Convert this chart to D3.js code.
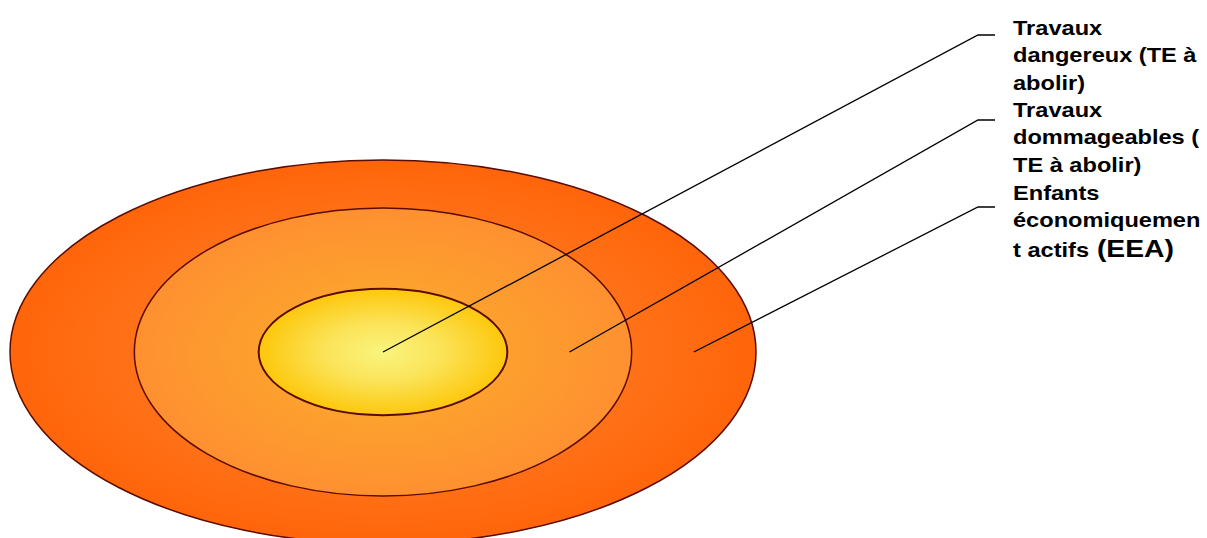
<!DOCTYPE html>
<html>
<head>
<meta charset="utf-8">
<script src="https://cdn.jsdelivr.net/npm/d3@7"></script>
<style>
  body { margin: 0; background: #fff; }
  text { font-family: Arial, "Liberation Sans", sans-serif; font-weight: bold; }
</style>
</head>
<body>
<svg width="1207" height="538"></svg>
<script>
// rings, from inside to outside
const categories = ['Travaux dangereux', 'Travaux dommageables', 'Enfants économiquement actifs']
const ringWidth = [1, 2, 3]
const ringHeight = [1, 2.28, 3.04]
const labelLines = [
  ['Travaux', 'dangereux (TE à', 'abolir)'],
  ['Travaux', 'dommageables (', 'TE à abolir)'],
  ['Enfants', 'économiquemen', 't actifs']
]

function main() {
  let svg = d3.select('svg'),
    cx = 383,
    cy = 352

  let xScale = d3.scaleLinear().domain([0, 3]).range([0, 373]),
    yScale = d3.scaleLinear().domain([0, 3.04]).range([0, 192])

  let defs = svg.append('defs')
  let grads = [
    ['#f9f47e', '#fbe45a', '#fdc70c'],
    ['#fbb226', '#fca12e', '#ff9030'],
    ['#fd8a30', '#ff7a22', '#ff650a']
  ]
  grads.forEach(function (c, i) {
    let g = defs.append('radialGradient').attr('id', 'g' + i)
      .attr('cx', '50%').attr('cy', '50%').attr('r', '50%')
    g.append('stop').attr('offset', '0%').attr('stop-color', c[0])
    g.append('stop').attr('offset', '45%').attr('stop-color', c[1])
    g.append('stop').attr('offset', '100%').attr('stop-color', c[2])
  })

  let data = categories.map(function (d, i) {
    return { name: d, w: ringWidth[i], h: ringHeight[i], lines: labelLines[i], i: i }
  })

  // draw biggest first
  svg.selectAll('.ring')
    .data(data.slice().reverse())
    .enter()
    .append('ellipse')
    .attr('class', 'ring')
    .attr('cx', cx)
    .attr('cy', cy)
    .attr('rx', function (d) { return xScale(d.w) })
    .attr('ry', function (d) { return yScale(d.h) })
    .attr('fill', function (d) { return 'url(#g' + d.i + ')' })
    .attr('stroke', '#5a0c00')
    .attr('stroke-width', function (d) { return d.i == 0 ? 2 : 1.5 })

  // leader lines
  let elbowY = [35, 120, 207]
  svg.selectAll('.leader')
    .data(data)
    .enter()
    .append('polyline')
    .attr('class', 'leader')
    .attr('fill', 'none')
    .attr('stroke', '#000')
    .attr('stroke-width', 1.3)
    .attr('points', function (d) {
      let inner = d.i == 0 ? 0 : ringWidth[d.i - 1]
      let x0 = cx + xScale((inner + d.w) / 2 * (d.i == 0 ? 0 : 1))
      return [[x0, cy], [978, elbowY[d.i]], [995, elbowY[d.i]]].join(' ')
    })

  // labels (text in the original is a bit wide, so stretch it)
  let baseY = [35, 117, 200]
  let lab = svg.append('g').attr('transform', 'translate(1013,0) scale(1.18,1)')
  data.forEach(function (d) {
    let t = lab.append('text')
      .attr('x', 0)
      .attr('y', baseY[d.i])
      .attr('font-size', 20)
      .attr('fill', '#000')
    d.lines.forEach(function (l, k) {
      t.append('tspan')
        .attr('x', 0)
        .attr('dy', k == 0 ? 0 : (d.i == 2 && k == 2 ? 30 : 27.3))
        .text(l)
      if (d.i == 2 && k == 2) {
        t.append('tspan').attr('font-size', 24).text(' (EEA)')
      }
    })
  })
}
main()
</script>
</body>
</html>
